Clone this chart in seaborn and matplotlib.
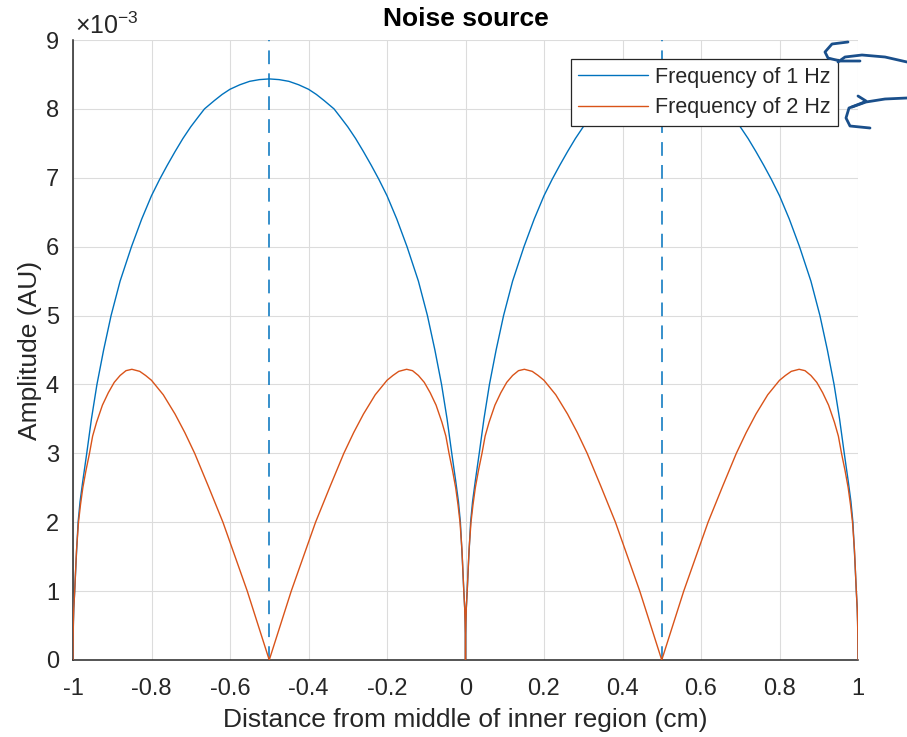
import matplotlib
matplotlib.use("Agg")
import matplotlib.pyplot as plt
import seaborn as sns
import pandas as pd
from matplotlib.lines import Line2D

# ---- data (amplitude in units of 1e-3 AU) ----
x_1hz = [-1.0, -0.9995, -0.999, -0.998, -0.9957, -0.992, -0.987, -0.982, -0.975, -0.965,
         -0.953, -0.939, -0.922, -0.903, -0.88, -0.851, -0.825, -0.8, -0.779, -0.76,
         -0.74, -0.72, -0.7, -0.68, -0.665, -0.64, -0.62, -0.6, -0.575, -0.55,
         -0.525, -0.5,
         -0.475, -0.45, -0.425, -0.4, -0.38, -0.36, -0.335, -0.32, -0.3, -0.28,
         -0.26, -0.24, -0.221, -0.2, -0.175, -0.149, -0.12, -0.097, -0.078, -0.061,
         -0.047, -0.035, -0.025, -0.018, -0.013, -0.008, -0.0043, -0.002, -0.001, -0.0005, 0.0,
         0.0005, 0.001, 0.002, 0.0043, 0.008, 0.013, 0.018, 0.025, 0.035, 0.047,
         0.061, 0.078, 0.097, 0.12, 0.149, 0.175, 0.2, 0.221, 0.24, 0.26,
         0.28, 0.3, 0.32, 0.335, 0.36, 0.38, 0.4, 0.425, 0.45, 0.475, 0.5,
         0.525, 0.55, 0.575, 0.6, 0.62, 0.64, 0.665, 0.68, 0.7, 0.72,
         0.74, 0.76, 0.779, 0.8, 0.825, 0.851, 0.88, 0.903, 0.922, 0.939,
         0.953, 0.965, 0.975, 0.982, 0.987, 0.992, 0.9957, 0.998, 0.999, 0.9995, 1.0]
amp_1hz = [0.0, 0.38, 0.55, 0.75, 1.0, 1.45, 2.0, 2.3, 2.6, 3.0,
           3.5, 4.0, 4.5, 5.0, 5.5, 6.0, 6.40, 6.74, 6.98, 7.18,
           7.38, 7.57, 7.74, 7.89, 8.0, 8.12, 8.21, 8.285, 8.35, 8.40,
           8.425, 8.435,
           8.425, 8.40, 8.35, 8.285, 8.21, 8.12, 8.0, 7.89, 7.74, 7.57,
           7.38, 7.18, 6.98, 6.74, 6.40, 6.0, 5.5, 5.0, 4.5, 4.0,
           3.5, 3.0, 2.6, 2.3, 2.0, 1.45, 1.0, 0.75, 0.55, 0.38, 0.0,
           0.38, 0.55, 0.75, 1.0, 1.45, 2.0, 2.3, 2.6, 3.0, 3.5,
           4.0, 4.5, 5.0, 5.5, 6.0, 6.40, 6.74, 6.98, 7.18, 7.38,
           7.57, 7.74, 7.89, 8.0, 8.12, 8.21, 8.285, 8.35, 8.40, 8.425, 8.435,
           8.425, 8.40, 8.35, 8.285, 8.21, 8.12, 8.0, 7.89, 7.74, 7.57,
           7.38, 7.18, 6.98, 6.74, 6.40, 6.0, 5.5, 5.0, 4.5, 4.0,
           3.5, 3.0, 2.6, 2.3, 2.0, 1.45, 1.0, 0.75, 0.55, 0.38, 0.0]

x_2hz = [-1.0, -0.9995, -0.999, -0.998, -0.9957, -0.991, -0.986, -0.981, -0.975, -0.967,
         -0.958, -0.95, -0.94, -0.925, -0.91, -0.895, -0.88, -0.865, -0.85, -0.83,
         -0.815, -0.8, -0.77, -0.74, -0.715, -0.69, -0.655, -0.618, -0.587, -0.556,
         -0.528, -0.5,
         -0.472, -0.444, -0.413, -0.382, -0.345, -0.31, -0.285, -0.26, -0.23, -0.2,
         -0.185, -0.17, -0.15, -0.135, -0.12, -0.105, -0.09, -0.075, -0.06, -0.05,
         -0.042, -0.033, -0.025, -0.019, -0.014, -0.009, -0.0043, -0.002, -0.001, -0.0005, 0.0,
         0.0005, 0.001, 0.002, 0.0043, 0.009, 0.014, 0.019, 0.025, 0.033, 0.042,
         0.05, 0.06, 0.075, 0.09, 0.105, 0.12, 0.135, 0.15, 0.17, 0.185,
         0.2, 0.23, 0.26, 0.285, 0.31, 0.345, 0.382, 0.413, 0.444, 0.472, 0.5,
         0.528, 0.556, 0.587, 0.618, 0.655, 0.69, 0.715, 0.74, 0.77, 0.8,
         0.815, 0.83, 0.85, 0.865, 0.88, 0.895, 0.91, 0.925, 0.94, 0.95,
         0.958, 0.967, 0.975, 0.981, 0.986, 0.991, 0.9957, 0.998, 0.999, 0.9995, 1.0]
amp_2hz = [0.0, 0.38, 0.55, 0.75, 1.0, 1.6, 2.0, 2.25, 2.5, 2.75,
           3.0, 3.25, 3.45, 3.7, 3.88, 4.03, 4.13, 4.2, 4.22, 4.19,
           4.13, 4.06, 3.85, 3.57, 3.30, 3.0, 2.52, 2.0, 1.5, 1.0,
           0.5, 0.0,
           0.5, 1.0, 1.5, 2.0, 2.52, 3.0, 3.30, 3.57, 3.85, 4.06,
           4.13, 4.19, 4.22, 4.2, 4.13, 4.03, 3.88, 3.7, 3.45, 3.25,
           3.0, 2.75, 2.5, 2.25, 2.0, 1.6, 1.0, 0.75, 0.55, 0.38, 0.0,
           0.38, 0.55, 0.75, 1.0, 1.6, 2.0, 2.25, 2.5, 2.75, 3.0,
           3.25, 3.45, 3.7, 3.88, 4.03, 4.13, 4.2, 4.22, 4.19, 4.13,
           4.06, 3.85, 3.57, 3.30, 3.0, 2.52, 2.0, 1.5, 1.0, 0.5, 0.0,
           0.5, 1.0, 1.5, 2.0, 2.52, 3.0, 3.30, 3.57, 3.85, 4.06,
           4.13, 4.19, 4.22, 4.2, 4.13, 4.03, 3.88, 3.7, 3.45, 3.25,
           3.0, 2.75, 2.5, 2.25, 2.0, 1.6, 1.0, 0.75, 0.55, 0.38, 0.0]

series_names = ["Frequency of 1 Hz", "Frequency of 2 Hz"]
marker_positions = [-0.5, 0.5]
x_ticks = [-1, -0.8, -0.6, -0.4, -0.2, 0, 0.2, 0.4, 0.6, 0.8, 1]
x_tick_labels = ["-1", "-0.8", "-0.6", "-0.4", "-0.2", "0", "0.2", "0.4", "0.6", "0.8", "1"]
y_ticks = [0, 1, 2, 3, 4, 5, 6, 7, 8, 9]

df = pd.concat([
    pd.DataFrame({"x": x_1hz, "amp": amp_1hz, "series": series_names[0]}),
    pd.DataFrame({"x": x_2hz, "amp": amp_2hz, "series": series_names[1]}),
], ignore_index=True)

sns.set_style("white")
plt.rcParams["font.family"] = ["Liberation Sans", "DejaVu Sans"]
plt.rcParams["mathtext.fontset"] = "custom"
plt.rcParams["mathtext.rm"] = "Liberation Sans"
plt.rcParams["mathtext.it"] = "Liberation Sans"

AX_COL = "#262626"
BLUE = "#0072BD"
ORANGE = "#D95319"

fig = plt.figure(figsize=(9.07, 7.37), dpi=100)
ax = fig.add_axes([73 / 907, 1 - 660 / 737, 785 / 907, 620 / 737])

for xv in marker_positions:
    ax.axvline(xv, color=BLUE, lw=1.1, ls=(0, (9, 6)), zorder=2)

sns.lineplot(data=df, x="x", y="amp", hue="series", sort=False, estimator=None,
             palette=[BLUE, ORANGE], linewidth=1.0, ax=ax, zorder=3)

ax.set_xlim(-1, 1)
ax.set_ylim(0, 9)
ax.set_xticks(x_ticks)
ax.set_xticklabels(x_tick_labels)
ax.set_yticks(y_ticks)
ax.grid(True, color="#dcdcdc", lw=0.8, zorder=0)
ax.set_axisbelow(True)
for s in ["top", "right"]:
    ax.spines[s].set_visible(False)
for s in ["left", "bottom"]:
    ax.spines[s].set_color(AX_COL)
    ax.spines[s].set_linewidth(1.1)
ax.tick_params(axis="both", direction="in", length=6, width=0.9, color=AX_COL,
               labelcolor=AX_COL, labelsize=17)
ax.tick_params(axis="x", pad=13)
ax.tick_params(axis="y", pad=10)

ax.set_xlabel("Distance from middle of inner region (cm)", fontsize=19, color=AX_COL, labelpad=6)
ax.set_ylabel("Amplitude (AU)", fontsize=19, color=AX_COL, labelpad=3)
ax.set_title("Noise source", fontsize=19, fontweight="bold", color="black", pad=10)

ax.text(0.002, 1.002, r"$\times10^{-3}$", transform=ax.transAxes, ha="left", va="bottom",
        fontsize=18, color=AX_COL)

leg = ax.legend(loc="upper right", bbox_to_anchor=(0.975, 0.969), borderaxespad=0,
                fontsize=15.5, frameon=True, fancybox=False, handlelength=3.25,
                handletextpad=0.33, borderpad=0.35, labelspacing=0.45)
leg.get_frame().set_edgecolor(AX_COL)
leg.get_frame().set_linewidth(0.9)
leg.get_frame().set_alpha(1.0)
for line in leg.get_lines():
    line.set_linewidth(1.0)

# hand-drawn arrows (annotation scribbles), in figure pixel coordinates
ARR = "#1a4f8b"
def fpx(xs, ys):
    return [x / 907 for x in xs], [1 - y / 737 for y in ys]

scribbles = [
    ([907, 885, 862, 845, 838], [62, 57, 55, 57, 62]),
    ([848, 832, 825, 828, 840, 860], [42, 44, 52, 58, 61, 61]),
    ([907, 885, 866, 852], [98, 99, 102, 107]),
    ([858, 866, 862, 849, 846, 850, 870], [96, 101, 103, 108, 118, 126, 128]),
]
for xs, ys in scribbles:
    fx, fy = fpx(xs, ys)
    fig.add_artist(Line2D(fx, fy, color=ARR, lw=2.0, solid_capstyle="round",
                          solid_joinstyle="round"))

fig.savefig("out.png", dpi=100)
